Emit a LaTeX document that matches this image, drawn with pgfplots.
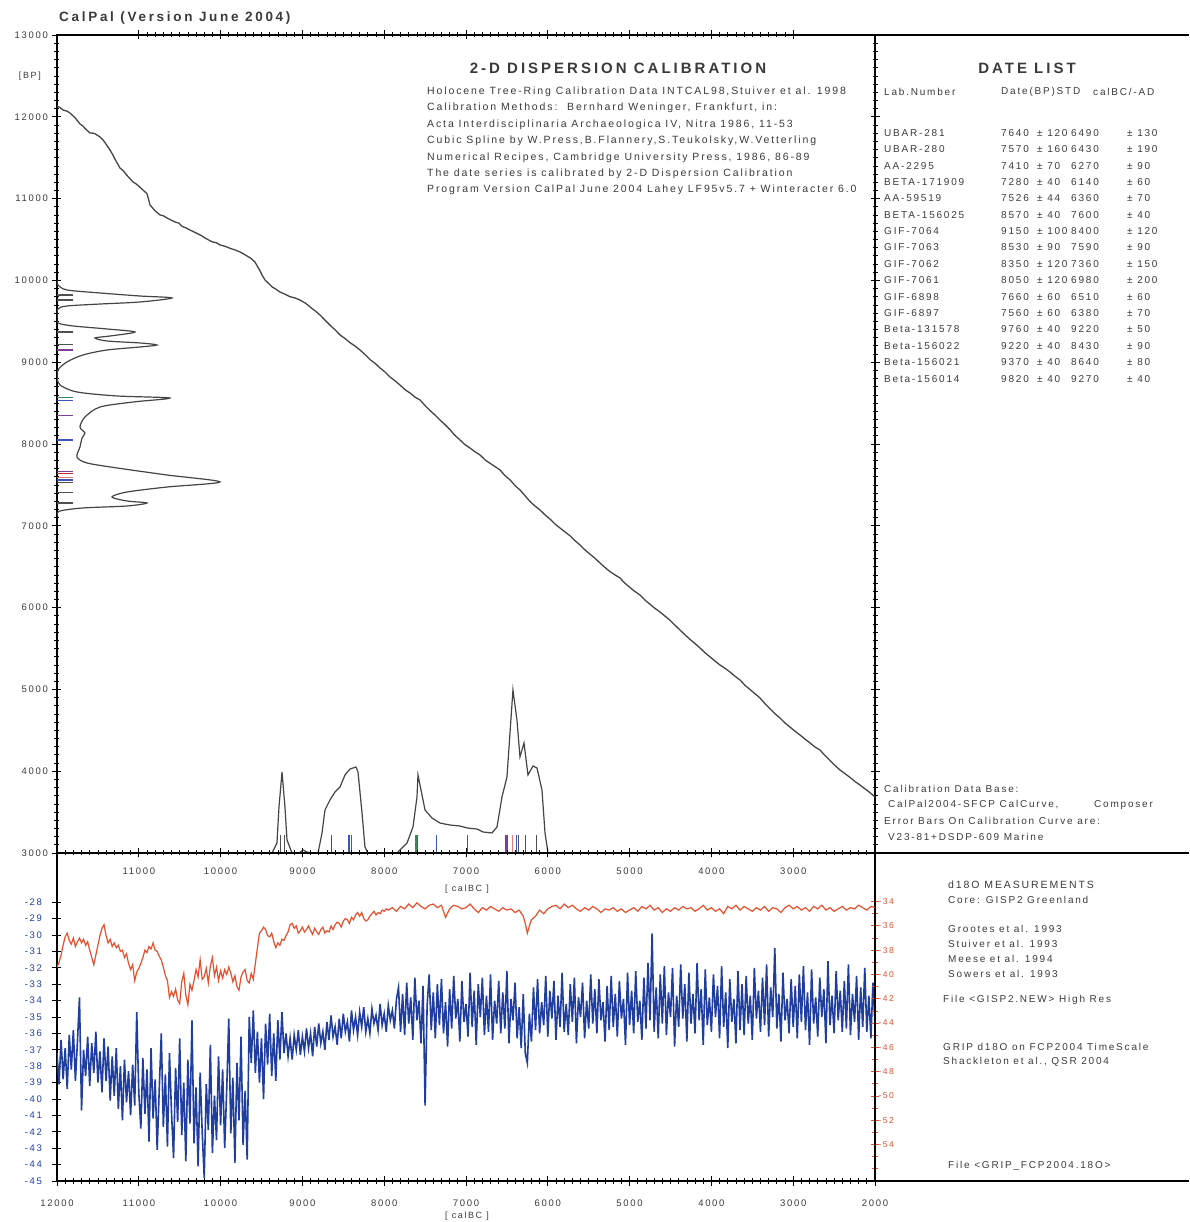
\documentclass[border=0pt]{standalone}
\usepackage{pgfplots}
\pgfplotsset{compat=1.18}
\usepackage{fontspec}
\setmainfont{Liberation Sans}[LetterSpace=18]
\newfontfamily\hfont{Liberation Sans}[LetterSpace=20]
\definecolor{txt}{HTML}{3A3A3A}
\definecolor{gripblue}{HTML}{1F3E9E}
\definecolor{gisred}{HTML}{E5502E}
\definecolor{curvegray}{HTML}{444444}
\definecolor{mpurple}{HTML}{7B3F98}
\definecolor{mblue}{HTML}{3B55B5}
\definecolor{mgreen}{HTML}{3C8A5C}
\definecolor{mred}{HTML}{C8283A}
\definecolor{mpink}{HTML}{E87A7A}
\definecolor{mgray}{HTML}{505050}
\newcommand{\tl}[3]{\node[anchor=west,inner sep=0pt,text=txt,font=\fontsize{10}{12}\selectfont] at (#1pt,#2pt) {#3};}
\newcommand{\tlb}[3]{\node[anchor=west,inner sep=0pt,text=txt,font=\fontsize{10.5}{12}\selectfont] at (#1pt,#2pt) {#3};}
\newcommand{\row}[6]{\tl{884}{#1}{#2}\tl{1001}{#1}{#3}\tl{1037}{#1}{#4}\tl{1071}{#1}{#5}\tl{1127}{#1}{#6}}
\pgfplotsset{every axis/.append style={
  /pgf/number format/1000 sep={},
  /pgf/number format/assume math mode=true,
  scaled x ticks=false, scaled y ticks=false,
  tick align=center,
  major tick length=9pt,
  minor tick length=5pt,
  every tick/.style={black,line width=0.7pt},
  axis line style={line width=1.3pt},
  tick label style={text=txt,font=\fontsize{9.5}{9.5}\selectfont},
}}
\begin{document}
\begin{tikzpicture}[x=1pt,y=1pt]
\useasboundingbox (0pt,0pt) rectangle (1189pt,1222pt);
% ---------------- top panel ----------------
\begin{axis}[at={(57pt,369pt)},anchor=south west,scale only axis,
  width=818pt,height=818pt,
  xmin=2000,xmax=12000,x dir=reverse,ymin=3000,ymax=13000,
  xtick={3000,4000,...,11000},ytick={3000,4000,...,13000},
  minor x tick num=9,minor y tick num=9,
  xtick pos=both,ytick pos=both,xticklabel pos=lower,yticklabel pos=left,
  xticklabel style={yshift=-7pt},
  yticklabel style={xshift=-1pt},
  unbounded coords=jump]
% calibration curve
\addplot[curvegray,line width=1.3pt] coordinates {
(12000,12132) (11960,12110) (11920,12080) (11880,12070) (11841,12046) (11780,11990) (11719,11912) (11680,11885) (11660,11860) (11597,11802) (11560,11800) (11530,11790) (11474,11753) (11440,11720) (11410,11680) (11352,11594) (11320,11540) (11290,11480) (11230,11374) (11190,11340) (11150,11290) (11071,11203) (11040,11185) (11010,11160) (10949,11105) (10900,11060) (10880,10990) (10863,10922) (10800,10850) (10741,10800) (10700,10790) (10650,10760) (10557,10714) (10510,10700) (10470,10660) (10420,10640) (10374,10616) (10280,10570) (10230,10545) (10191,10518) (10100,10470) (10050,10460) (10007,10433) (9940,10415) (9880,10390) (9820,10372) (9763,10347) (9720,10325) (9680,10300) (9630,10270) (9580,10225) (9520,10120) (9490,10060) (9457,10005) (9410,9960) (9370,9920) (9320,9890) (9274,9858) (9210,9830) (9150,9800) (9090,9785) (9029,9760) (8960,9720) (8900,9670) (8840,9625) (8785,9577) (8720,9510) (8660,9450) (8600,9395) (8540,9333) (8480,9290) (8420,9240) (8360,9200) (8296,9149) (8230,9090) (8170,9030) (8110,8985) (8051,8929) (7990,8880) (7930,8820) (7870,8775) (7807,8721) (7740,8660) (7680,8620) (7620,8570) (7562,8538) (7500,8470) (7440,8410) (7380,8355) (7318,8293) (7260,8240) (7200,8180) (7140,8110) (7073,8049) (7010,7990) (6950,7950) (6890,7905) (6829,7866) (6760,7800) (6700,7760) (6640,7720) (6584,7682) (6520,7610) (6460,7560) (6400,7490) (6340,7438) (6280,7370) (6220,7300) (6160,7245) (6095,7193) (6030,7130) (5970,7080) (5910,7020) (5851,6973) (5790,6925) (5730,6880) (5670,6820) (5606,6765) (5540,6700) (5480,6650) (5420,6600) (5362,6545) (5300,6490) (5240,6440) (5180,6400) (5117,6362) (5060,6300) (5000,6250) (4940,6200) (4873,6154) (4810,6090) (4750,6040) (4690,5990) (4628,5946) (4560,5890) (4500,5840) (4440,5780) (4384,5726) (4320,5665) (4260,5610) (4200,5560) (4139,5506) (4080,5450) (4020,5400) (3960,5350) (3895,5298) (3830,5255) (3770,5210) (3710,5160) (3650,5115) (3590,5050) (3530,5000) (3470,4950) (3406,4895) (3340,4820) (3280,4760) (3220,4700) (3161,4650) (3100,4590) (3040,4540) (2980,4490) (2917,4443) (2860,4395) (2800,4350) (2740,4300) (2672,4259) (2610,4190) (2550,4130) (2490,4070) (2428,4015) (2360,3965) (2300,3920) (2240,3870) (2183,3831) (2130,3790) (2090,3760) (2040,3720) (2000,3685)};
% BP dispersion (left)
\addplot[curvegray,line width=1.2pt,smooth,tension=0.5] coordinates {
(12000,10000) (11988,9944) (11878,9883) (11474,9846) (10985,9809) (10594,9785) (10985,9736) (11474,9711) (11878,9687) (11988,9650) (12000,9553) (11988,9479) (11804,9443) (11389,9406) (11046,9369) (11352,9320) (11535,9296) (11389,9259) (10985,9235) (10778,9210) (10985,9186) (11389,9149) (11682,9088) (11878,9003) (11988,8905) (12000,8819) (11963,8721) (11756,8636) (11267,8587) (10619,8562) (11071,8513) (11474,8452) (11658,8330) (11719,8208) (11658,8134) (11694,8073) (11719,7963) (11756,7841) (11633,7768) (11267,7707) (10655,7621) (10007,7536) (10655,7474) (11144,7413) (11328,7352) (11144,7303) (10900,7279) (11144,7242) (11682,7218) (11963,7181) (12000,7132)};
% calBC dispersion (bottom)
\addplot[curvegray,line width=1.2pt] coordinates {
(9500,3000) (9372,3000) (9311,3122) (9286,3562) (9249,3990) (9213,3562) (9188,3159) (9127,3000) (9040,3000) (8993,3037) (8944,3012) (8900,3000) (8809,3000) (8760,3245) (8724,3526) (8663,3648) (8601,3746) (8540,3807) (8479,3954) (8418,4027) (8345,4051) (8320,3990) (8271,3489) (8235,3073) (8198,3000) (7844,3000) (7721,3122) (7648,3318) (7599,3685) (7587,3954) (7550,3770) (7501,3526) (7416,3428) (7318,3366) (7196,3342) (7073,3330) (6988,3306) (6866,3293) (6792,3257) (6682,3245) (6621,3318) (6560,3685) (6499,3929) (6462,4467) (6426,4993) (6377,4626) (6340,4174) (6291,4345) (6242,3954) (6181,4064) (6132,4039) (6071,3770) (6034,3245) (5997,3000) (5900,3000)};
% markers on BP axis
\addplot[mgray,line width=1.3pt] coordinates {(12000,9820) (11800,9820) (nan,nan) (12000,9760) (11800,9760) (nan,nan) (12000,9370) (11800,9370) (nan,nan) (12000,9220) (11800,9220) (nan,nan) (12000,7410) (11800,7410) (nan,nan) (12000,7280) (11800,7280) (nan,nan) (12000,7526) (11800,7526)};
\addplot[mpurple,line width=1.3pt] coordinates {(12000,9150) (11800,9150) (nan,nan) (12000,8350) (11800,8350) (nan,nan) (12000,7660) (11800,7660)};
\addplot[mblue,line width=1.3pt] coordinates {(12000,8530) (11800,8530) (nan,nan) (12000,8050) (11800,8050) (nan,nan) (12000,7560) (11800,7560)};
\addplot[mgreen,line width=1.3pt] coordinates {(12000,8570) (11800,8570)};
\addplot[mred,line width=1.3pt] coordinates {(12000,7640) (11800,7640)};
\addplot[mpink,line width=1.3pt] coordinates {(12000,7590) (11800,7590)};
% markers on calBC axis
\addplot[mgray,line width=1.3pt] coordinates {(9270,3000) (9270,3220) (nan,nan) (9220,3000) (9220,3220) (nan,nan) (8640,3000) (8640,3220) (nan,nan) (6360,3000) (6360,3220) (nan,nan) (6270,3000) (6270,3220) (nan,nan) (6140,3000) (6140,3220)};
\addplot[mpurple,line width=1.3pt] coordinates {(8400,3000) (8400,3220) (nan,nan) (6510,3000) (6510,3220)};
\addplot[mblue,line width=1.3pt] coordinates {(8430,3000) (8430,3220) (nan,nan) (7590,3000) (7590,3220) (nan,nan) (7360,3000) (7360,3220) (nan,nan) (6980,3000) (6980,3220) (nan,nan) (6380,3000) (6380,3220)};
\addplot[mgreen,line width=1.3pt] coordinates {(7610,3000) (7610,3220)};
\addplot[mred,line width=1.3pt] coordinates {(6490,3000) (6490,3220)};
\addplot[mpink,line width=1.3pt] coordinates {(6430,3000) (6430,3220)};
\end{axis}
% ---------------- bottom panel, GRIP (left axis) ----------------
\begin{axis}[at={(57pt,41pt)},anchor=south west,scale only axis,
  width=818pt,height=328pt,
  xmin=2000,xmax=12000,x dir=reverse,ymin=-45,ymax=-25,
  xtick={2000,3000,...,12000},minor x tick num=9,
  ytick={-45,-44,...,-28},
  xtick pos=both,xticklabel pos=lower,ytick pos=left,
  xticklabel style={yshift=-11pt},
  ytick style={line width=0.8pt},
  y tick label style={text=gripblue,xshift=-7pt}]
\addplot[gripblue,line width=1.6pt] coordinates {
(12000,-37.2) (11975,-39.1) (11950,-36.4) (11925,-38.8) (11900,-36.9) (11875,-39.4) (11850,-36.1) (11825,-38.2) (11800,-35.8) (11775,-38.9) (11750,-36.5) (11725,-33.8) (11700,-40.7) (11675,-37.0) (11650,-38.6) (11625,-36.2) (11600,-39.2) (11575,-36.6) (11550,-38.4) (11525,-35.9) (11500,-39.0) (11475,-37.1) (11450,-39.6) (11425,-36.3) (11400,-38.9) (11375,-36.8) (11350,-40.1) (11325,-37.4) (11300,-39.8) (11275,-36.9) (11250,-40.6) (11225,-38.0) (11200,-41.3) (11175,-37.6) (11150,-40.2) (11125,-38.3) (11100,-41.0) (11075,-37.9) (11050,-40.4) (11025,-34.7)
(11000,-39.6) (10975,-41.8) (10950,-37.5) (10925,-40.9) (10900,-38.2) (10875,-42.6) (10850,-36.9) (10825,-41.2) (10800,-38.8) (10775,-43.1) (10750,-39.4) (10725,-36.0) (10700,-41.7) (10675,-38.5) (10650,-42.9) (10625,-37.2) (10600,-40.8) (10575,-43.6) (10550,-38.1) (10525,-41.4) (10500,-36.3) (10475,-42.2) (10450,-39.0) (10425,-43.8) (10400,-37.6) (10375,-41.5) (10350,-35.2) (10325,-42.7) (10300,-39.3) (10275,-44.1) (10250,-38.4) (10225,-42.0) (10200,-44.8) (10175,-39.1) (10150,-41.9) (10125,-36.7) (10100,-43.3) (10075,-39.8) (10050,-42.5) (10025,-37.4)
(10000,-41.6) (9975,-38.2) (9950,-43.0) (9925,-39.4) (9900,-35.1) (9875,-42.1) (9850,-38.7) (9825,-43.9) (9800,-37.8) (9775,-41.3) (9750,-36.2) (9725,-42.8) (9700,-39.5) (9675,-43.7) (9650,-35.0) (9625,-37.8) (9600,-34.6) (9575,-38.4) (9550,-35.9) (9525,-39.0) (9500,-36.3) (9475,-40.0) (9450,-35.4) (9425,-37.9) (9400,-34.8) (9375,-38.6) (9350,-36.0) (9325,-38.9) (9300,-35.2) (9275,-37.6) (9250,-34.7) (9225,-37.2)
(9200,-36.0) (9175,-37.4) (9150,-36.3) (9125,-37.6) (9100,-36.1) (9075,-37.0) (9050,-35.8) (9025,-37.3) (9000,-36.2) (8975,-37.1) (8950,-35.7) (8925,-36.9) (8900,-36.0) (8875,-37.4) (8850,-35.6) (8825,-36.8) (8800,-35.4) (8775,-36.6) (8750,-35.9) (8725,-37.0) (8700,-35.3) (8675,-36.4) (8650,-34.9) (8625,-36.2) (8600,-35.6) (8575,-36.7) (8550,-35.1) (8525,-36.3) (8500,-34.8) (8475,-35.9) (8450,-35.3) (8425,-36.5) (8400,-34.6) (8375,-35.8) (8350,-35.0) (8325,-36.1) (8300,-34.7) (8275,-35.6) (8250,-34.4) (8225,-35.9) (8200,-35.1) (8175,-36.0) (8150,-34.5) (8125,-35.4) (8100,-34.9) (8075,-35.8) (8050,-34.2) (8025,-35.5) (8000,-34.8) (7975,-35.9) (7950,-34.3) (7925,-35.2) (7900,-34.6) (7875,-35.7) (7850,-33.9)
(7825,-33.2) (7800,-35.9) (7775,-33.6) (7750,-36.1) (7725,-32.9) (7700,-35.4) (7675,-33.8) (7650,-36.4) (7625,-32.6) (7600,-35.2) (7575,-34.0) (7550,-36.6) (7525,-33.1) (7500,-40.4) (7475,-34.3) (7450,-32.4) (7425,-35.8) (7400,-33.5) (7375,-36.3) (7350,-33.0) (7325,-35.5) (7300,-32.7) (7275,-36.0) (7250,-34.1) (7225,-36.8) (7200,-33.3) (7175,-35.7) (7150,-32.5) (7125,-35.1) (7100,-33.9) (7075,-36.5) (7050,-32.8) (7025,-35.3) (7000,-34.2)
(6975,-36.2) (6950,-32.3) (6925,-35.6) (6900,-33.4) (6875,-36.7) (6850,-33.0) (6825,-35.0) (6800,-32.6) (6775,-36.1) (6750,-33.7) (6725,-35.9) (6700,-32.4) (6675,-36.4) (6650,-34.0) (6625,-35.4) (6600,-32.8) (6575,-36.0) (6550,-33.5) (6525,-35.7) (6500,-32.2) (6475,-36.6) (6450,-33.9) (6425,-35.2) (6400,-32.9) (6375,-36.3) (6350,-34.4) (6325,-36.9) (6300,-33.6) (6275,-37.2) (6250,-37.8) (6225,-34.8) (6200,-36.5) (6175,-33.2) (6150,-35.8) (6125,-32.7) (6100,-36.0) (6075,-34.1) (6050,-35.5) (6025,-32.5) (6000,-36.2)
(5975,-33.4) (5950,-35.1) (5925,-32.8) (5900,-36.4) (5875,-33.7) (5850,-35.6) (5825,-32.3) (5800,-35.9) (5775,-34.2) (5750,-36.1) (5725,-33.0) (5700,-35.3) (5675,-32.6) (5650,-36.6) (5625,-33.8) (5600,-35.0) (5575,-32.9) (5550,-36.3) (5525,-34.0) (5500,-35.7) (5475,-32.4) (5450,-35.4) (5425,-33.3) (5400,-36.0) (5375,-32.7) (5350,-35.2) (5325,-34.1) (5300,-36.5) (5275,-33.1) (5250,-35.8) (5225,-32.5) (5200,-35.6) (5175,-33.6) (5150,-36.2) (5125,-32.8) (5100,-35.1) (5075,-33.9) (5050,-36.7) (5025,-32.3) (5000,-35.5)
(4975,-33.4) (4950,-36.0) (4925,-32.2) (4900,-35.3) (4875,-34.0) (4850,-36.4) (4825,-32.6) (4800,-35.7) (4775,-31.7) (4750,-35.2) (4725,-29.9) (4700,-35.9) (4675,-33.2) (4650,-36.3) (4625,-32.4) (4600,-35.4) (4575,-31.9) (4550,-36.1) (4525,-33.5) (4500,-35.0) (4475,-32.0) (4450,-36.8) (4425,-33.7) (4400,-35.6) (4375,-31.8) (4350,-35.1) (4325,-33.0) (4300,-36.5) (4275,-32.3) (4250,-35.4) (4225,-33.6) (4200,-36.0) (4175,-31.7) (4150,-35.2) (4125,-33.3) (4100,-36.7) (4075,-32.1) (4050,-35.5) (4025,-33.8) (4000,-35.9)
(3975,-32.4) (3950,-35.0) (3925,-33.1) (3900,-36.3) (3875,-31.9) (3850,-35.6) (3825,-33.5) (3800,-36.9) (3775,-32.7) (3750,-35.3) (3725,-33.9) (3700,-36.6) (3675,-32.2) (3650,-35.8) (3625,-33.0) (3600,-36.1) (3575,-32.5) (3550,-35.4) (3525,-33.7) (3500,-36.4) (3475,-32.0) (3450,-35.1) (3425,-33.4) (3400,-35.9) (3375,-32.6) (3350,-35.5) (3325,-31.8) (3300,-36.2) (3275,-33.2) (3250,-35.0) (3225,-30.8) (3200,-35.7) (3175,-33.6) (3150,-36.5) (3125,-32.3) (3100,-35.2) (3075,-33.9) (3050,-36.0) (3025,-32.7) (3000,-35.6)
(2975,-33.1) (2950,-36.3) (2925,-32.4) (2900,-35.3) (2875,-31.9) (2850,-35.8) (2825,-33.5) (2800,-36.7) (2775,-32.1) (2750,-35.4) (2725,-33.8) (2700,-36.2) (2675,-32.6) (2650,-35.0) (2625,-33.3) (2600,-36.6) (2575,-31.6) (2550,-35.5) (2525,-33.7) (2500,-36.0) (2475,-32.2) (2450,-35.2) (2425,-33.4) (2400,-35.9) (2375,-32.8) (2350,-35.7) (2325,-31.8) (2300,-36.1) (2275,-33.6) (2250,-35.3) (2225,-32.5) (2200,-36.4) (2175,-33.2) (2150,-35.6) (2125,-32.0) (2100,-35.9) (2075,-33.7) (2050,-36.3) (2025,-32.9) (2000,-35.5)};
\end{axis}
% ---------------- bottom panel, GISP2 (right axis) ----------------
\begin{axis}[at={(57pt,41pt)},anchor=south west,scale only axis,
  width=818pt,height=328pt,
  xmin=2000,xmax=12000,x dir=reverse,ymin=-57,ymax=-30,
  axis x line=none,axis y line*=right,
  ytick={-54,-52,...,-34},minor ytick={-56,-55,...,-35},
  major tick length=8pt,minor tick length=6pt,
  yticklabel style={text=gisred,xshift=-4pt,font=\fontsize{8.5}{8.5}\selectfont},
  every tick/.style={gisred,line width=0.8pt}]
\addplot[gisred,line width=1.2pt] coordinates {
(12000,-39.4) (11975,-39.0) (11950,-38.4) (11925,-37.6) (11900,-36.9) (11875,-36.6) (11850,-37.2) (11825,-37.5) (11800,-37.0) (11775,-37.7) (11750,-37.3) (11725,-37.0) (11700,-37.4) (11675,-37.1) (11650,-37.6) (11625,-37.3) (11600,-38.0) (11575,-38.6) (11550,-39.2) (11525,-38.4) (11500,-37.6) (11475,-36.8) (11450,-36.2) (11425,-35.9) (11400,-36.8) (11375,-37.4) (11350,-37.1) (11325,-37.7) (11300,-37.4) (11275,-37.8) (11250,-37.6) (11225,-38.1) (11200,-38.0) (11175,-38.6) (11150,-38.3) (11125,-39.1) (11100,-39.6) (11075,-39.2) (11050,-40.5) (11025,-39.8)
(11000,-39.5) (10975,-39.1) (10950,-38.6) (10925,-38.0) (10900,-38.2) (10875,-37.7) (10850,-37.9) (10825,-37.4) (10800,-38.0) (10775,-38.1) (10750,-38.5) (10725,-38.8) (10700,-39.4) (10675,-40.1) (10650,-40.5) (10625,-41.9) (10600,-41.4) (10575,-41.8) (10550,-41.2) (10525,-42.1) (10500,-42.4) (10475,-40.6) (10450,-39.9) (10425,-41.7) (10400,-42.5) (10375,-40.8) (10350,-41.3) (10325,-40.5) (10300,-39.6) (10275,-40.2) (10250,-38.8) (10225,-40.4) (10200,-40.2) (10175,-39.5) (10150,-40.7) (10125,-39.3) (10100,-38.6) (10075,-40.1) (10050,-39.4) (10025,-40.5)
(10000,-39.7) (9975,-40.3) (9950,-39.6) (9925,-40.0) (9900,-39.4) (9875,-39.9) (9850,-40.6) (9825,-40.1) (9800,-41.0) (9775,-41.3) (9750,-40.2) (9725,-39.8) (9700,-39.6) (9675,-40.5) (9650,-40.7) (9625,-39.9) (9600,-40.4) (9575,-39.1) (9550,-37.8) (9525,-36.6) (9500,-36.4) (9475,-36.1) (9450,-36.3) (9425,-36.8) (9400,-36.9) (9375,-36.6) (9350,-37.3) (9325,-37.8) (9300,-37.4) (9275,-37.6) (9250,-37.1) (9225,-37.2) (9200,-36.8) (9175,-36.5) (9150,-35.9) (9125,-35.8) (9100,-36.2) (9075,-36.0) (9050,-36.6) (9025,-36.4)
(9000,-36.1) (8975,-36.5) (8950,-36.3) (8925,-36.0) (8900,-36.4) (8875,-36.7) (8850,-36.2) (8825,-36.5) (8800,-36.7) (8775,-36.3) (8750,-36.1) (8725,-36.6) (8700,-36.4) (8675,-36.5) (8650,-36.0) (8625,-36.3) (8600,-35.9) (8575,-35.7) (8550,-35.8) (8525,-36.1) (8500,-35.6) (8475,-35.4) (8450,-35.5) (8425,-35.8) (8400,-35.3) (8375,-35.5) (8350,-35.1) (8325,-34.9) (8300,-35.2) (8275,-34.9) (8250,-35.4) (8225,-35.6) (8200,-35.5) (8175,-35.2) (8150,-35.0) (8125,-34.8) (8100,-35.1) (8075,-34.9) (8050,-35.0) (8025,-34.7)
(8000,-34.8) (7975,-34.6) (7950,-34.7) (7900,-34.5) (7850,-34.8) (7800,-34.4) (7750,-34.6) (7700,-34.2) (7650,-34.5) (7600,-34.1) (7550,-34.4) (7500,-34.6) (7450,-34.3) (7400,-34.2) (7350,-34.5) (7300,-34.3) (7250,-35.3) (7200,-34.6) (7150,-34.3) (7100,-34.4) (7050,-34.6) (7000,-34.5) (6950,-34.2) (6900,-34.6) (6850,-34.9) (6800,-34.5) (6750,-34.7) (6700,-34.4) (6650,-34.6) (6600,-34.8) (6550,-34.5) (6500,-34.7) (6450,-34.6) (6400,-34.9) (6350,-34.7) (6300,-35.2) (6275,-35.8) (6250,-36.6) (6225,-36.0) (6200,-35.5) (6150,-35.2) (6100,-34.7) (6050,-35.0) (6000,-34.6)
(5950,-34.4) (5900,-34.3) (5850,-34.6) (5800,-34.2) (5750,-34.5) (5700,-34.3) (5650,-34.6) (5600,-34.8) (5550,-34.5) (5500,-34.7) (5450,-34.4) (5400,-34.6) (5350,-34.9) (5300,-34.6) (5250,-34.7) (5200,-34.5) (5150,-34.8) (5100,-34.6) (5050,-34.9) (5000,-34.7) (4950,-34.5) (4900,-34.8) (4850,-34.4) (4800,-34.6) (4750,-34.3) (4700,-34.7) (4650,-34.5) (4600,-34.9) (4550,-34.6) (4500,-34.8) (4450,-34.5) (4400,-34.7) (4350,-34.4) (4300,-34.6) (4250,-34.5) (4200,-34.8) (4150,-34.6) (4100,-34.3) (4050,-34.7) (4000,-34.5)
(3950,-34.8) (3900,-34.6) (3850,-35.0) (3800,-34.4) (3750,-34.6) (3700,-34.3) (3650,-34.7) (3600,-34.4) (3550,-34.6) (3500,-34.8) (3450,-34.5) (3400,-34.7) (3350,-34.4) (3300,-34.8) (3250,-34.5) (3200,-34.6) (3150,-34.9) (3100,-34.5) (3050,-34.3) (3000,-34.6) (2950,-34.4) (2900,-34.7) (2850,-34.5) (2800,-34.8) (2750,-34.4) (2700,-34.6) (2650,-34.3) (2600,-34.7) (2550,-34.5) (2500,-34.8) (2450,-34.6) (2400,-34.4) (2350,-34.7) (2300,-34.5) (2250,-34.6) (2200,-34.3) (2150,-34.5) (2100,-34.7) (2050,-34.4) (2000,-34.5)};
\end{axis}
% ---------------- frame lines ----------------
\draw[line width=1.3pt] (57pt,1187pt) -- (1189pt,1187pt);
\draw[line width=1.3pt] (875pt,369pt) -- (1189pt,369pt);
\draw[line width=1.3pt] (57pt,41pt) -- (1189pt,41pt);
% ---------------- texts ----------------
\node[anchor=west,inner sep=0pt,text=txt,font={\hfont\bfseries\fontsize{13.5}{15}\selectfont}] at (59pt,1204pt) {CalPal (Version June 2004)};
\node[anchor=east,inner sep=0pt,text=txt,font=\fontsize{9}{9}\selectfont] at (41pt,1146pt) {[BP]};
\node[inner sep=0pt,text=txt,font=\fontsize{9}{9}\selectfont] at (467pt,333pt) {[ calBC ]};
\node[inner sep=0pt,text=txt,font=\fontsize{9}{9}\selectfont] at (467pt,6pt) {[ calBC ]};
\node[inner sep=0pt,text=txt,font={\hfont\bfseries\fontsize{15}{16}\selectfont}] at (618pt,1154pt) {2-D DISPERSION CALIBRATION};
\tlb{427}{1130}{Holocene Tree-Ring Calibration Data INTCAL98,Stuiver et al. 1998}
\tlb{427}{1114}{Calibration Methods:\ \ Bernhard Weninger, Frankfurt, in:}
\tlb{427}{1097}{Acta Interdisciplinaria Archaeologica IV, Nitra 1986, 11-53}
\tlb{427}{1081}{Cubic Spline by W.Press,B.Flannery,S.Teukolsky,W.Vetterling}
\tlb{427}{1064}{Numerical Recipes, Cambridge University Press, 1986, 86-89}
\tlb{427}{1048}{The date series is calibrated by 2-D Dispersion Calibration}
\tlb{427}{1032}{Program Version CalPal June 2004 Lahey LF95v5.7 + Winteracter 6.0}
\node[inner sep=0pt,text=txt,font={\hfont\bfseries\fontsize{15}{16}\selectfont}] at (1027pt,1154pt) {DATE LIST};
\tl{884}{1130}{Lab.Number}
\tl{1001}{1130}{Date(BP)STD}
\tl{1093}{1130}{calBC/-AD}
\row{1089}{UBAR-281}{7640}{± 120}{6490}{± 130}
\row{1073}{UBAR-280}{7570}{± 160}{6430}{± 190}
\row{1056}{AA-2295}{7410}{± 70}{6270}{± 90}
\row{1040}{BETA-171909}{7280}{± 40}{6140}{± 60}
\row{1024}{AA-59519}{7526}{± 44}{6360}{± 70}
\row{1007}{BETA-156025}{8570}{± 40}{7600}{± 40}
\row{991}{GIF-7064}{9150}{± 100}{8400}{± 120}
\row{975}{GIF-7063}{8530}{± 90}{7590}{± 90}
\row{958}{GIF-7062}{8350}{± 120}{7360}{± 150}
\row{942}{GIF-7061}{8050}{± 120}{6980}{± 200}
\row{925}{GIF-6898}{7660}{± 60}{6510}{± 60}
\row{909}{GIF-6897}{7560}{± 60}{6380}{± 70}
\row{893}{Beta-131578}{9760}{± 40}{9220}{± 50}
\row{876}{Beta-156022}{9220}{± 40}{8430}{± 90}
\row{860}{Beta-156021}{9370}{± 40}{8640}{± 80}
\row{843}{Beta-156014}{9820}{± 40}{9270}{± 40}
\tl{884}{433}{Calibration Data Base:}
\tl{888}{417}{CalPal2004-SFCP CalCurve,}
\tl{1094}{417}{Composer}
\tl{884}{401}{Error Bars On Calibration Curve are:}
\tl{888}{385}{V23-81+DSDP-609 Marine}
\tlb{948}{337}{d18O MEASUREMENTS}
\tl{948}{322}{Core: GISP2 Greenland}
\tl{948}{293}{Grootes et al. 1993}
\tl{948}{278}{Stuiver et al. 1993}
\tl{948}{263}{Meese et al. 1994}
\tl{948}{248}{Sowers et al. 1993}
\tl{943}{222}{File <GISP2.NEW> High Res}
\tl{943}{175}{GRIP d18O on FCP2004 TimeScale}
\tl{943}{160}{Shackleton et al., QSR 2004}
\tl{948}{56}{File <GRIP\_FCP2004.18O>}
\end{tikzpicture}
\end{document}
